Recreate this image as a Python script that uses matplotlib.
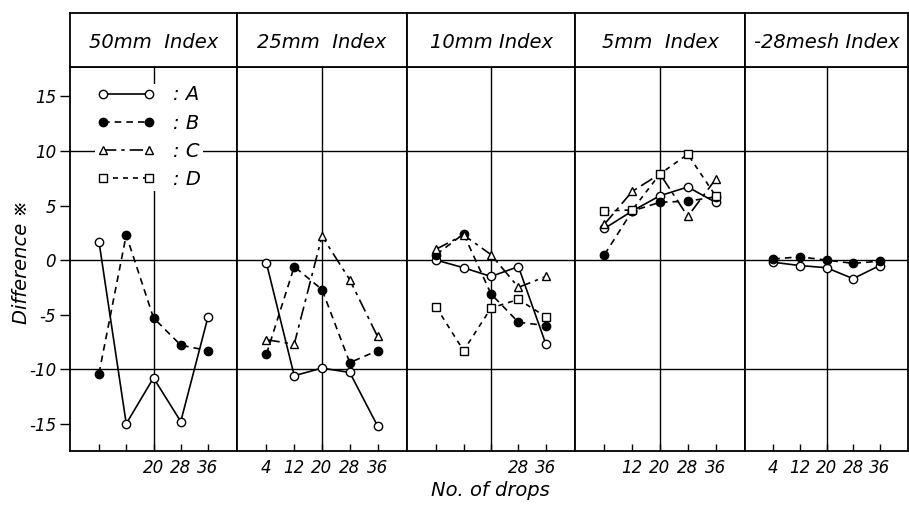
import matplotlib.pyplot as plt
from matplotlib.lines import Line2D

plt.rcParams['axes.unicode_minus'] = False
plt.rcParams['font.family'] = ['DejaVu Sans', 'Noto Sans CJK JP']
plt.rcParams['font.style'] = 'italic'

drops = [4, 12, 20, 28, 36]

panel_titles = ["50mm  Index", "25mm  Index", "10mm Index", "5mm  Index", "-28mesh Index"]
tick_labels = [
    ["", "", "20", "28", "36"],
    ["4", "12", "20", "28", "36"],
    ["", "", "", "28", "36"],
    ["", "12", "20", "28", "36"],
    ["4", "12", "20", "28", "36"],
]

# difference (%) per panel, series A..D (None = not measured)
A = [
    [1.7, -15.0, -10.8, -14.8, -5.2],
    [-0.3, -10.6, -9.9, -10.3, -15.2],
    [0.0, -0.7, -1.5, -0.6, -7.7],
    [2.9, 4.5, 5.9, 6.7, 5.3],
    [-0.2, -0.5, -0.7, -1.7, -0.5],
]
B = [
    [-10.4, 2.3, -5.3, -7.8, -8.3],
    [-8.6, -0.6, -2.7, -9.4, -8.3],
    [0.5, 2.4, -3.1, -5.7, -6.0],
    [0.5, 4.5, 5.3, 5.4, 5.8],
    [0.1, 0.3, 0.0, -0.3, -0.1],
]
C = [
    None,
    [-7.3, -7.7, 2.2, -1.8, -7.0],
    [1.0, 2.3, 0.5, -2.5, -1.5],
    [3.3, 6.3, 7.9, 4.0, 7.4],
    None,
]
D = [
    None,
    None,
    [-4.3, -8.3, -4.4, -3.6, -5.2],
    [4.5, 4.6, 7.9, 9.7, 5.9],
    None,
]

series = [
    ("A", A, dict(marker='o', mfc='white', ls='-')),
    ("B", B, dict(marker='o', mfc='black', ls=(0, (4, 3)))),
    ("C", C, dict(marker='^', mfc='white', ls=(0, (8, 3, 2, 3)))),
    ("D", D, dict(marker='s', mfc='white', ls=(0, (3, 3)))),
]

W, H = 909, 505
fig = plt.figure(figsize=(W / 100, H / 100), dpi=100)

edges = [70, 237, 407, 575, 745, 908]
y_bot, y_top, y_head = 451, 67, 13

axes = []
for i in range(5):
    l = edges[i] / W
    w = (edges[i + 1] - edges[i]) / W
    ax = fig.add_axes([l, 1 - y_bot / H, w, (y_bot - y_top) / H])
    hd = fig.add_axes([l, 1 - y_top / H, w, (y_top - y_head) / H])
    hd.set_xticks([])
    hd.set_yticks([])
    hd.text(0.5, 0.45, panel_titles[i], ha='center', va='center', fontsize=14,
            transform=hd.transAxes)
    for sp in hd.spines.values():
        sp.set_linewidth(1.3)

    ax.set_xlim(-4.5, 44.5)
    ax.set_ylim(-17.5, 17.7)
    for yv in (10, 0, -10):
        ax.axhline(yv, color='black', lw=1.0, zorder=1)
    ax.axvline(20, color='black', lw=1.0, zorder=1)

    for name, data, st in series:
        vals = data[i]
        if vals is None:
            continue
        ax.plot(drops, vals, color='black', lw=1.2, ls=st['ls'], marker=st['marker'],
                mfc=st['mfc'], mec='black', ms=6, mew=1.0, zorder=3)

    ax.set_xticks(drops)
    ax.set_xticklabels(tick_labels[i], fontsize=12)
    ax.tick_params(axis='x', direction='in', length=5, width=1, pad=6)
    if i == 0:
        ax.set_yticks([15, 10, 5, 0, -5, -10, -15])
        ax.set_yticklabels(["15", "10", "5", "0", "-5", "-10", "-15"], fontsize=12)
        ax.tick_params(axis='y', direction='out', length=7, width=1, pad=3)
    else:
        ax.set_yticks([])
    for sp in ax.spines.values():
        sp.set_linewidth(1.3)
    axes.append(ax)

handles = [Line2D([], [], color='black', lw=1.2, ls=st['ls'], marker=st['marker'],
                  mfc=st['mfc'], mec='black', ms=6, mew=1.0) for _, _, st in series]
leg = axes[0].legend(handles, [": A", ": B", ": C", ": D"], loc='upper left',
                     bbox_to_anchor=(0.15, 0.957), frameon=True, fontsize=14,
                     numpoints=2, handlelength=3.0, handletextpad=0.9,
                     labelspacing=0.47, borderpad=0.1, borderaxespad=0.0)
leg.get_frame().set_facecolor('white')
leg.get_frame().set_edgecolor('none')
leg.get_frame().set_alpha(1)
leg.set_zorder(5)

fig.text(22 / W, 1 - 262 / H, "Difference ※", rotation=90, ha='center', va='center',
         fontsize=14)
fig.text(490 / W, 1 - 490 / H, "No. of drops", ha='center', va='center', fontsize=14)

fig.savefig("out.png", dpi=100)
